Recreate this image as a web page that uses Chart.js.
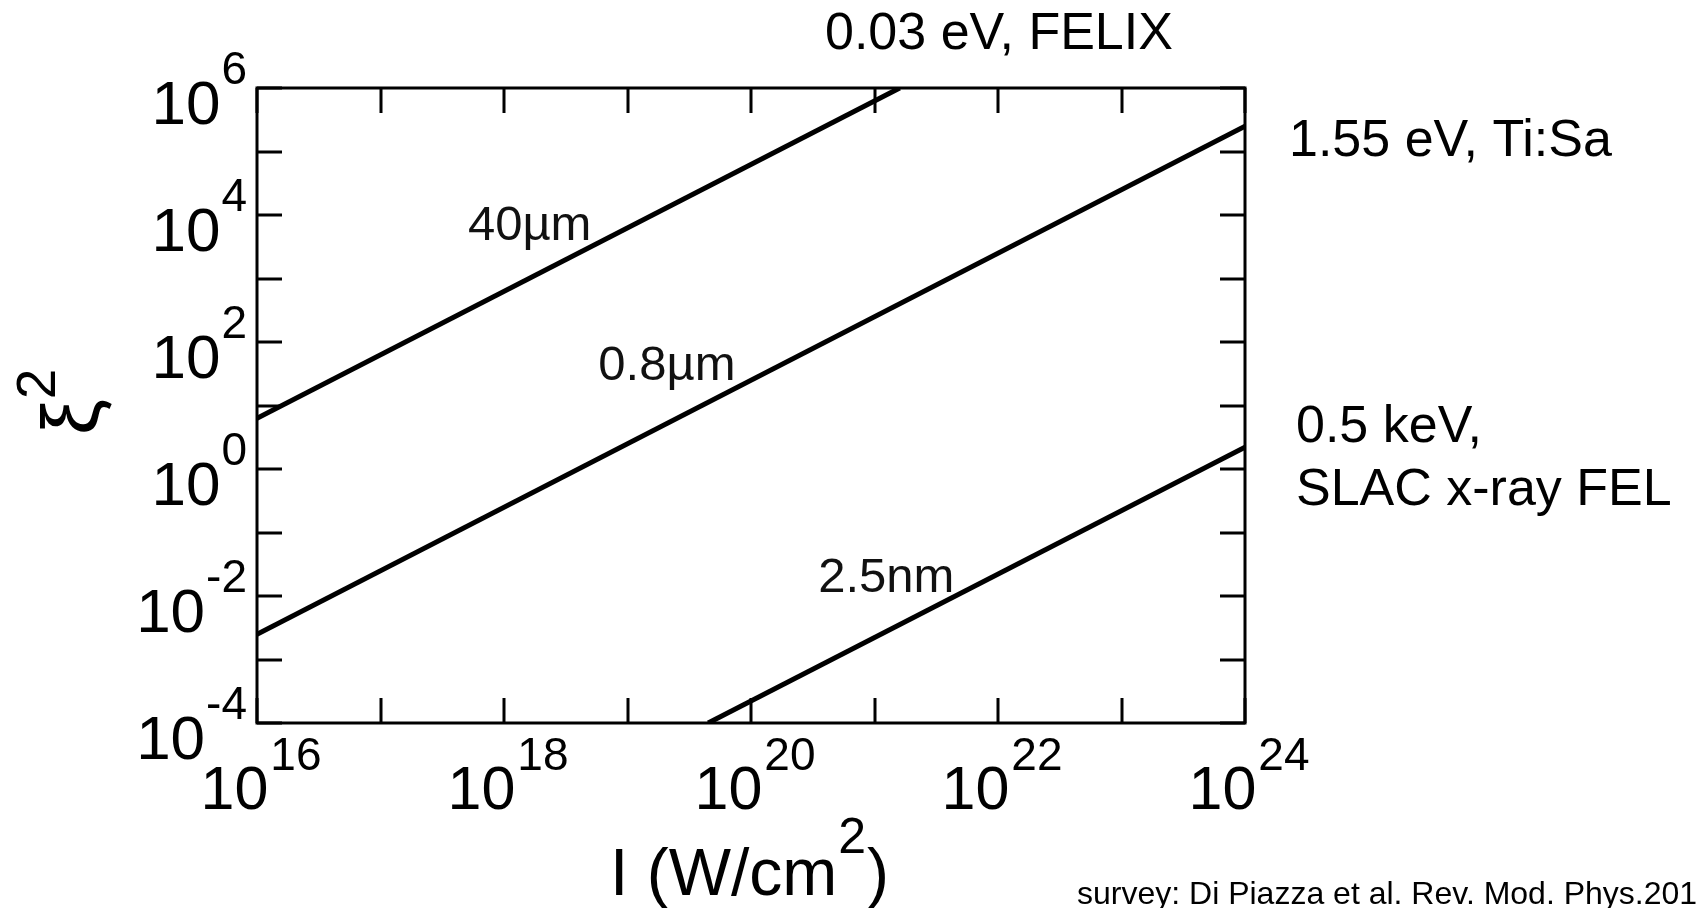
<!DOCTYPE html>
<html>
<head>
<meta charset="utf-8">
<script src="https://cdn.jsdelivr.net/npm/chart.js@4/dist/chart.umd.min.js"></script>
<style>
  html, body { margin: 0; padding: 0; background: #fff; }
  #wrap { width: 1697px; height: 908px; position: relative; }
</style>
</head>
<body>
<div id="wrap"><canvas id="myChart"></canvas></div>
<script>
// xi^2 vs laser intensity, three wavelengths
const seriesNames = ['40µm', '0.8µm', '2.5nm'];
const intensity40um = [1e16, 1.6e21];
const xi2_40um = [6.3, 1e6];
const intensity08um = [1e16, 1e24];
const xi2_08um = [2.5e-3, 2.5e5];
const intensity25nm = [4.5e19, 1e24];
const xi2_25nm = [1e-4, 2.2];

const xTickValues = [1e16, 1e17, 1e18, 1e19, 1e20, 1e21, 1e22, 1e23, 1e24];
const xLabelExponents = [16, 18, 20, 22, 24];
const yTickValues = [1e-4, 1e-3, 1e-2, 1e-1, 1, 1e1, 1e2, 1e3, 1e4, 1e5, 1e6];
const yLabelExponents = [-4, -2, 0, 2, 4, 6];

const sourceNotes = ['0.03 eV, FELIX', '1.55 eV, Ti:Sa', '0.5 keV,', 'SLAC x-ray FEL'];
const surveyNote = 'survey: Di Piazza et al. Rev. Mod. Phys.2012';

const FONT = "'Liberation Sans', Arial, Helvetica, sans-serif";
const TICK = 25;

function toPoints(xs, ys) {
    return xs.map((v, i) => ({ x: v, y: ys[i] }));
}

// where each curve name sits (data coords, left/baseline of text)
const seriesLabelAt = [
    { x: 5.1e17, y: 4.0e3 },
    { x: 5.8e18, y: 25 },
    { x: 3.5e20, y: 1.15e-2 }
];

const decorations = {
    id: 'decorations',
    afterDatasetsDraw(chart) {
        const ctx = chart.ctx;
        const a = chart.chartArea;
        const x = chart.scales.x;
        const y = chart.scales.y;
        ctx.save();
        ctx.fillStyle = '#000';
        ctx.strokeStyle = '#000';

        // frame + inner ticks on all four sides
        ctx.lineWidth = 3;
        ctx.strokeRect(a.left, a.top, a.right - a.left, a.bottom - a.top);
        ctx.beginPath();
        xTickValues.forEach(function(v) {
            const px = Math.round(x.getPixelForValue(v));
            ctx.moveTo(px, a.bottom); ctx.lineTo(px, a.bottom - TICK);
            ctx.moveTo(px, a.top); ctx.lineTo(px, a.top + TICK);
        });
        yTickValues.forEach(function(v) {
            const py = Math.round(y.getPixelForValue(v));
            ctx.moveTo(a.left, py); ctx.lineTo(a.left + TICK, py);
            ctx.moveTo(a.right, py); ctx.lineTo(a.right - TICK, py);
        });
        ctx.stroke();

        // tick labels 10^n
        ctx.textBaseline = 'alphabetic';
        xLabelExponents.forEach(function(e) {
            const px = x.getPixelForValue(Math.pow(10, e));
            ctx.font = '61px ' + FONT;
            const w1 = ctx.measureText('10').width;
            ctx.font = '46px ' + FONT;
            const w2 = ctx.measureText(String(e)).width;
            const start = px - (w1 + w2 + 2) / 2 + 4;
            ctx.textAlign = 'left';
            ctx.font = '61px ' + FONT;
            ctx.fillText('10', start, a.bottom + 86);
            ctx.font = '46px ' + FONT;
            ctx.fillText(String(e), start + w1 + 2, a.bottom + 47);
        });
        yLabelExponents.forEach(function(e) {
            const py = y.getPixelForValue(Math.pow(10, e));
            const right = a.left - 10;
            ctx.textAlign = 'right';
            ctx.font = '46px ' + FONT;
            const w2 = ctx.measureText(String(e)).width;
            ctx.fillText(String(e), right, py - 4);
            ctx.font = '62px ' + FONT;
            ctx.fillText('10', right - w2 - 1, py + 36);
        });

        // axis titles
        ctx.textAlign = 'left';
        ctx.font = '66px ' + FONT;
        let tx = 610;
        ctx.fillText('I (W/cm', tx, 895);
        tx += ctx.measureText('I (W/cm').width + 1;
        ctx.font = '50px ' + FONT;
        ctx.fillText('2', tx, 853);
        tx += ctx.measureText('2').width + 1;
        ctx.font = '66px ' + FONT;
        ctx.fillText(')', tx, 895);

        ctx.save();
        ctx.translate(98, 435);
        ctx.rotate(-Math.PI / 2);
        ctx.font = '80px ' + FONT;
        ctx.fillText('ξ', 0, 0);
        const wx = ctx.measureText('ξ').width;
        ctx.font = '55px ' + FONT;
        ctx.fillText('2', wx, -43);
        ctx.restore();

        // curve names
        ctx.font = '49px ' + FONT;
        ctx.fillStyle = '#111';
        seriesNames.forEach(function(name, i) {
            const p = seriesLabelAt[i];
            ctx.fillText(name, x.getPixelForValue(p.x), y.getPixelForValue(p.y));
        });

        // sources on the right
        ctx.fillStyle = '#000';
        ctx.font = '52px ' + FONT;
        ctx.fillText(sourceNotes[0], 825, 49);
        ctx.fillText(sourceNotes[1], a.right + 44, 156);
        ctx.fillText(sourceNotes[2], a.right + 51, 442);
        ctx.fillText(sourceNotes[3], a.right + 51, 505);

        ctx.font = '32px ' + FONT;
        ctx.fillText(surveyNote, 1077, 904);
        ctx.restore();
    }
};

const ctx = document.getElementById('myChart').getContext('2d');
const lineStyle = {
    borderColor: '#000',
    borderWidth: 5,
    pointRadius: 0,
    showLine: true,
    fill: false
};

new Chart(ctx, {
    type: 'scatter',
    data: {
        datasets: [
            Object.assign({ label: seriesNames[0], data: toPoints(intensity40um, xi2_40um) }, lineStyle),
            Object.assign({ label: seriesNames[1], data: toPoints(intensity08um, xi2_08um) }, lineStyle),
            Object.assign({ label: seriesNames[2], data: toPoints(intensity25nm, xi2_25nm) }, lineStyle)
        ]
    },
    options: {
        responsive: true,
        maintainAspectRatio: false,
        animation: false,
        layout: { padding: { left: 257, right: 452, top: 88, bottom: 185 } },
        plugins: {
            legend: { display: false },
            tooltip: { enabled: false }
        },
        scales: {
            x: { type: 'logarithmic', min: 1e16, max: 1e24, display: false },
            y: { type: 'logarithmic', min: 1e-4, max: 1e6, display: false }
        }
    },
    plugins: [decorations]
});
</script>
</body>
</html>
